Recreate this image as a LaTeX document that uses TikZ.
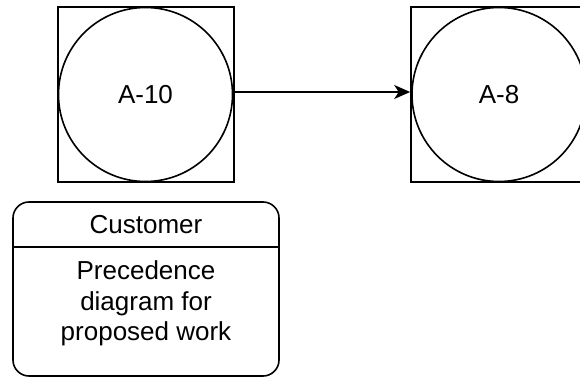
\documentclass[tikz,border=0pt]{standalone}
\usepackage{fontspec}
\setmainfont{Liberation Sans}
\usetikzlibrary{arrows.meta}
\begin{document}
\begin{tikzpicture}[x=1pt,y=-1pt,
  lw/.style={line width=1.6pt},
  sqbox/.style={lw, draw, inner sep=0pt, minimum width=176pt, minimum height=175pt},
  circ/.style={lw, draw, circle, inner sep=0pt, minimum size=174pt, font=\fontsize{26}{30}\selectfont},
  lbl/.style={font=\fontsize{26}{30.5}\selectfont, align=center, inner sep=0pt}
]
\useasboundingbox (0,0) rectangle (580,379);
\clip (0,0) rectangle (580,379);
\node[sqbox] (sq1) at (146,94.5) {};
\node[circ] (c1) at (145.5,94.5) {A-10};
\node[sqbox] (sq2) at (499,94.5) {};
\node[circ] (c2) at (499,94.5) {A-8};
\draw[lw, -{Stealth[length=16pt,width=14pt,inset=4.5pt]}] ([yshift=2.5pt]sq1.east) -- ([yshift=2.5pt]sq2.west);
\node[lw, draw, rounded corners=16pt, minimum width=266pt, minimum height=174pt, inner sep=0pt] (box) at (146,289) {};
\coordinate (hl) at (0,247);
\draw[lw] (box.west |- hl) -- (box.east |- hl);
\node[lbl] (cust) at (146,225) {Customer};
\node[lbl] (body) at (146,303.5) {Precedence\\diagram for\\proposed work};
\end{tikzpicture}
\end{document}
